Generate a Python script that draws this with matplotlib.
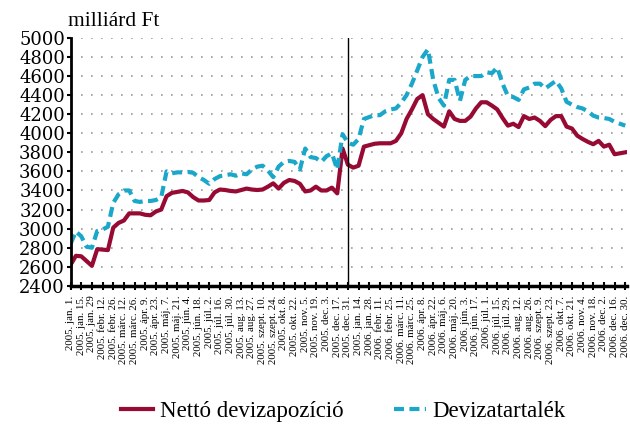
import numpy as np
import matplotlib
matplotlib.use("Agg")
import matplotlib.pyplot as plt

# tick labels, every second week
tick_labels = [
    "2005. jan. 1.", "2005. jan. 15.", "2005. jan. 29", "2005. febr. 12.", "2005. febr. 26.",
    "2005. márc. 12.", "2005. márc. 26.", "2005. ápr. 9.", "2005. ápr. 23.", "2005. máj. 7.",
    "2005. máj. 21.", "2005. jún. 4.", "2005. jún. 18.", "2005. júl. 2.", "2005. júl. 16.",
    "2005. júl. 30.", "2005. aug. 13.", "2005. aug. 27.", "2005. szept. 10.", "2005. szept. 24.",
    "2005. okt. 8.", "2005. okt. 22.", "2005. nov. 5.", "2005. nov. 19.", "2005. dec. 3.",
    "2005. dec. 17.", "2005. dec. 31.",
    "2005. jan. 14.", "2006. jan. 28.", "2006. febr. 11.", "2006. febr. 25.", "2006. márc. 11.",
    "2006. márc. 25.", "2006. ápr. 8.", "2006. ápr. 22.", "2006. máj. 6.", "2006. máj. 20.",
    "2006. jún. 3.", "2006. jún. 17.", "2006. júl. 1.", "2006. júl. 15.", "2006. júl. 29.",
    "2006. aug. 12.", "2006. aug. 26.", "2006. szept. 9.", "2006. szept. 23.", "2006. okt. 7.",
    "2006. okt. 21.", "2006. nov. 4.", "2006. nov. 18.", "2006. dec. 2.", "2006. dec. 16.",
    "2006. dec. 30.",
]

# weekly values, milliárd Ft
netto = [
    2620, 2715, 2710, 2660, 2610, 2785, 2780, 2775, 3010, 3060,
    3085, 3160, 3160, 3160, 3145, 3140, 3180, 3200, 3340, 3375,
    3385, 3395, 3380, 3330, 3295, 3295, 3300, 3380, 3410, 3405,
    3395, 3390, 3405, 3420, 3410, 3405, 3410, 3440, 3475, 3420,
    3480, 3510, 3500, 3470, 3390, 3400, 3440, 3400, 3400, 3430,
    3370, 3840, 3670, 3640, 3660, 3860, 3875, 3890, 3895, 3895,
    3895, 3920, 4000, 4150, 4250, 4360, 4400, 4200, 4150, 4110,
    4070, 4230, 4150, 4130, 4130, 4175, 4260, 4325, 4325, 4290,
    4250, 4160, 4080, 4100, 4065, 4180, 4150, 4165, 4130, 4075,
    4140, 4180, 4180, 4070, 4050, 3975, 3940, 3910, 3885, 3920,
    3860, 3880, 3780, 3790, 3800,
]
tartalek = [
    2840, 2970, 2920, 2810, 2800, 2975, 2990, 3020, 3270, 3360,
    3400, 3400, 3290, 3280, 3290, 3290, 3300, 3330, 3600, 3580,
    3590, 3590, 3595, 3585, 3540, 3510, 3470, 3520, 3550, 3560,
    3570, 3555, 3580, 3570, 3620, 3650, 3660, 3610, 3540, 3650,
    3700, 3710, 3700, 3620, 3840, 3750, 3740, 3700, 3760, 3790,
    3620, 3990, 3900, 3880, 3940, 4150, 4170, 4190, 4190, 4230,
    4250, 4260, 4320, 4400, 4520, 4660, 4800, 4880, 4560, 4370,
    4290, 4560, 4560, 4340, 4560, 4600, 4600, 4600, 4640, 4630,
    4690, 4520, 4390, 4380, 4350, 4460, 4480, 4520, 4520, 4470,
    4510, 4550, 4470, 4330, 4300, 4275, 4260, 4230, 4185, 4165,
    4160, 4150, 4120, 4100, 4080,
]

weeks = np.arange(len(netto))
red = "#960a33"
blue = "#1aa7c9"

fig = plt.figure(figsize=(6.3, 4.26), dpi=100)
ax = fig.add_axes([0.112, 0.329, 0.883, 0.582])

ax.plot(weeks, netto, color=red, lw=3, solid_joinstyle="round", label="Nettó devizapozíció")
ax.plot(weeks, tartalek, color=blue, lw=3, dashes=(2.4, 1.3), label="Devizatartalék")

# year boundary
ax.axvline(52, color="black", lw=1)

ax.set_xlim(0, 104.3)
ax.set_ylim(2400, 5000)
ax.set_yticks(np.arange(2400, 5001, 200))
ax.set_xticks(np.arange(0, 105, 2))
ax.set_xticklabels(tick_labels, rotation=90, fontsize=7.8, family="Liberation Serif")
for lab in ax.get_yticklabels():
    lab.set_family("DejaVu Serif")
    lab.set_fontsize(13)

ax.yaxis.grid(True, color="#999999", lw=1.2, linestyle=(0, (1, 5)))
ax.set_axisbelow(True)
for s in ["top", "right"]:
    ax.spines[s].set_visible(False)
ax.spines["left"].set_linewidth(2)
ax.spines["bottom"].set_linewidth(2.5)
ax.tick_params(axis="x", direction="inout", length=6, width=1.5, pad=4)
ax.tick_params(axis="y", direction="out", length=3, width=1.5, pad=1)

fig.text(0.108, 0.94, "milliárd Ft", fontsize=15.5, family="Liberation Serif", ha="left")

fig.legend(loc="center", bbox_to_anchor=(0.545, 0.033), ncol=2, frameon=False,
           prop={"family": "Liberation Serif", "size": 16.5}, handlelength=1.4,
           columnspacing=2.2, handletextpad=0.3)

fig.savefig("out.png", dpi=100)
